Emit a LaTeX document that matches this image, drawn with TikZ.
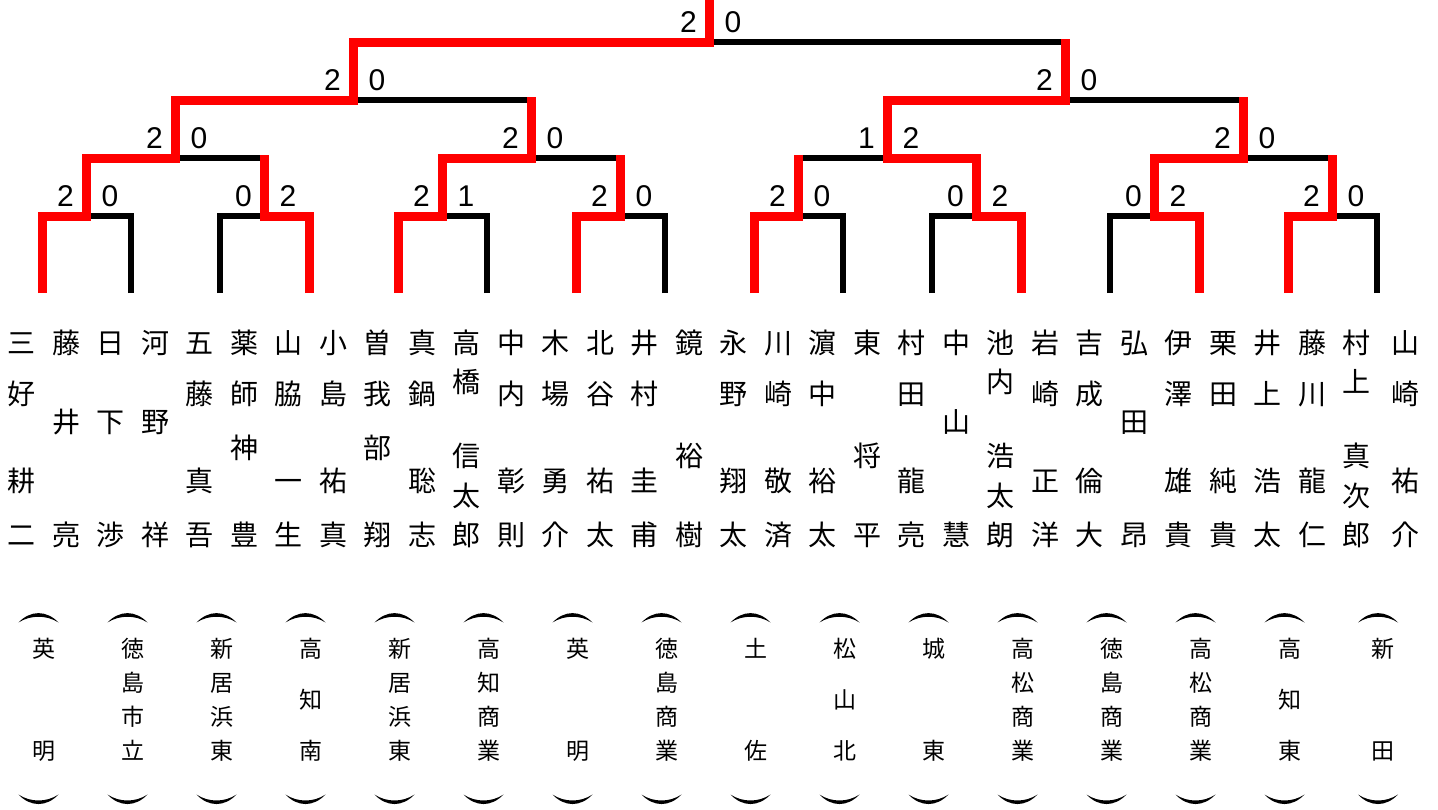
\documentclass[tikz,border=0pt]{standalone}
\usepackage{fontspec}
\newfontfamily\jpfont{Noto Sans CJK JP}
\newfontfamily\scfont{Liberation Sans}
\usetikzlibrary{calc}
% name columns (surname + given name), y positions in px
\newcommand\nmTT[6]{% 2+2
  \node[nm] (#1a) at (#2,343) {#3};
  \node[nm] (#1b) at (#2,394) {#4};
  \node[nm] (#1c) at (#2,481) {#5};
  \node[nm] (#1d) at (#2,535) {#6};}
\newcommand\nmTO[5]{% 2+1
  \node[nm] (#1a) at (#2,343) {#3};
  \node[nm] (#1b) at (#2,422) {#4};
  \node[nm] (#1c) at (#2,535) {#5};}
\newcommand\nmHO[6]{% 3+1
  \node[nm] (#1a) at (#2,343) {#3};
  \node[nm] (#1b) at (#2,394) {#4};
  \node[nm] (#1c) at (#2,448) {#5};
  \node[nm] (#1d) at (#2,535) {#6};}
\newcommand\nmTH[7]{% 2+3
  \node[nm] (#1a) at (#2,343) {#3};
  \node[nm] (#1b) at (#2,382) {#4};
  \node[nm] (#1c) at (#2,456) {#5};
  \node[nm] (#1d) at (#2,496) {#6};
  \node[nm] (#1e) at (#2,535) {#7};}
\newcommand\nmOT[5]{% 1+2
  \node[nm] (#1a) at (#2,343) {#3};
  \node[nm] (#1b) at (#2,456) {#4};
  \node[nm] (#1c) at (#2,535) {#5};}
% school columns
\newcommand\schTwo[4]{%
  \node[sch] (#1a) at (#2,649) {#3};
  \node[sch] (#1b) at (#2,751) {#4};}
\newcommand\schThree[5]{%
  \node[sch] (#1a) at (#2,649) {#3};
  \node[sch] (#1b) at (#2,700) {#4};
  \node[sch] (#1c) at (#2,751) {#5};}
\newcommand\schFour[6]{%
  \node[sch] (#1a) at (#2,649) {#3};
  \node[sch] (#1b) at (#2,683) {#4};
  \node[sch] (#1c) at (#2,717) {#5};
  \node[sch] (#1d) at (#2,751) {#6};}
\begin{document}
\begin{tikzpicture}[x=1pt,y=-1pt,
  redl/.style={draw=red, line width=9pt, line join=miter},
  blkl/.style={draw=black, line width=6pt, line join=miter},
  nm/.style={font=\jpfont\fontsize{28}{28}\selectfont, inner sep=0pt, text height=24.64pt, text depth=3.36pt},
  sch/.style={font=\jpfont\fontsize{23}{23}\selectfont, inner sep=0pt, text height=20.24pt, text depth=2.76pt},
  sc/.style={font=\scfont\fontsize{30}{30}\selectfont, inner sep=0pt, text height=21.48pt, text depth=0pt},
  parc/.style={fill=black, draw=none}]
\useasboundingbox (0,0) rectangle (1438,809);

% bracket coordinates
\foreach \k in {0,...,15} \coordinate (l\k) at ({42+89*\k},293);
\foreach \j in {1,...,8} \coordinate (m\j) at ({86.5+178*(\j-1)},216);
\coordinate (m9) at (175.5,158);
\coordinate (m10) at (531.5,158);
\coordinate (m11) at (887.5,158);
\coordinate (m12) at (1243.5,158);
\coordinate (m13) at (353.5,100);
\coordinate (m14) at (1065.5,100);
\coordinate (m15) at (709.5,42);
\coordinate (top) at (709.5,-2);

% losing lines
\draw[blkl] (l1) |- (m1);
\draw[blkl] (l2) |- (m2);
\draw[blkl] (l5) |- (m3);
\draw[blkl] (l7) |- (m4);
\draw[blkl] (l9) |- (m5);
\draw[blkl] (l10) |- (m6);
\draw[blkl] (l12) |- (m7);
\draw[blkl] (l15) |- (m8);
\draw[blkl] (m9) -- (m2 |- m9);
\draw[blkl] (m10) -- (m4 |- m10);
\draw[blkl] (m11) -- (m5 |- m11);
\draw[blkl] (m12) -- (m8 |- m12);
\draw[blkl] (m13) -- (m10 |- m13);
\draw[blkl] (m14) -- (m12 |- m14);
\draw[blkl] (m15) -- (m14 |- m15);

% winning lines
\draw[redl] (l0) |- (m1) |- (m9) |- (m13) |- (m15) -- (top);
\draw[redl] (l3) |- (m2) -- ($(m2 |- m9)+(0,-3)$);
\draw[redl] (l4) |- (m3) |- (m10) -- ($(m10 |- m13)+(0,-3)$);
\draw[redl] (l6) |- (m4) -- ($(m4 |- m10)+(0,-3)$);
\draw[redl] (l8) |- (m5) -- ($(m5 |- m11)+(0,-3)$);
\draw[redl] (l11) |- (m6) |- (m11) |- (m14) -- ($(m14 |- m15)+(0,-3)$);
\draw[redl] (l13) |- (m7) |- (m12) -- ($(m12 |- m14)+(0,-3)$);
\draw[redl] (l14) |- (m8) -- ($(m8 |- m12)+(0,-3)$);

% scores
\foreach \m/\a/\b in {1/2/0,2/0/2,3/2/1,4/2/0,5/2/0,6/0/2,7/0/2,8/2/0,
                      9/2/0,10/2/0,11/1/2,12/2/0,13/2/0,14/2/0,15/2/0}{
  \node[sc] (sa\m) at ($(m\m)+(-21,-20.5)$) {\a};
  \node[sc] (sb\m) at ($(m\m)+(23.5,-20.5)$) {\b};
}

% player names
\nmTT{n0}{21.5}{三}{好}{耕}{二}
\nmTO{n1}{66}{藤}{井}{亮}
\nmTO{n2}{110.5}{日}{下}{渉}
\nmTO{n3}{155}{河}{野}{祥}
\nmTT{n4}{199.5}{五}{藤}{真}{吾}
\nmHO{n5}{244}{薬}{師}{神}{豊}
\nmTT{n6}{288.5}{山}{脇}{一}{生}
\nmTT{n7}{333}{小}{島}{祐}{真}
\nmHO{n8}{377.5}{曽}{我}{部}{翔}
\nmTT{n9}{422}{真}{鍋}{聡}{志}
\nmTH{n10}{466.5}{高}{橋}{信}{太}{郎}
\nmTT{n11}{511}{中}{内}{彰}{則}
\nmTT{n12}{555.5}{木}{場}{勇}{介}
\nmTT{n13}{600}{北}{谷}{祐}{太}
\nmTT{n14}{644.5}{井}{村}{圭}{甫}
\nmOT{n15}{689}{鏡}{裕}{樹}
\nmTT{n16}{733.5}{永}{野}{翔}{太}
\nmTT{n17}{778}{川}{崎}{敬}{済}
\nmTT{n18}{822.5}{濵}{中}{裕}{太}
\nmOT{n19}{867}{東}{将}{平}
\nmTT{n20}{911.5}{村}{田}{龍}{亮}
\nmTO{n21}{956}{中}{山}{慧}
\nmTH{n22}{1000.5}{池}{内}{浩}{太}{朗}
\nmTT{n23}{1045}{岩}{崎}{正}{洋}
\nmTT{n24}{1089.5}{吉}{成}{倫}{大}
\nmTO{n25}{1134}{弘}{田}{昂}
\nmTT{n26}{1178.5}{伊}{澤}{雄}{貴}
\nmTT{n27}{1223}{栗}{田}{純}{貴}
\nmTT{n28}{1267.5}{井}{上}{浩}{太}
\nmTT{n29}{1312}{藤}{川}{龍}{仁}
\nmTH{n30}{1356.5}{村}{上}{真}{次}{郎}
\nmTT{n31}{1405}{山}{崎}{祐}{介}

% schools
\schTwo{c0}{43.5}{英}{明}
\schFour{c1}{132.5}{徳}{島}{市}{立}
\schFour{c2}{221.5}{新}{居}{浜}{東}
\schThree{c3}{310.5}{高}{知}{南}
\schFour{c4}{399.5}{新}{居}{浜}{東}
\schFour{c5}{488.5}{高}{知}{商}{業}
\schTwo{c6}{577.5}{英}{明}
\schFour{c7}{666.5}{徳}{島}{商}{業}
\schTwo{c8}{755.5}{土}{佐}
\schThree{c9}{844.5}{松}{山}{北}
\schTwo{c10}{933.5}{城}{東}
\schFour{c11}{1022.5}{高}{松}{商}{業}
\schFour{c12}{1111.5}{徳}{島}{商}{業}
\schFour{c13}{1200.5}{高}{松}{商}{業}
\schThree{c14}{1289.5}{高}{知}{東}
\schTwo{c15}{1383}{新}{田}

% vertical parentheses
\foreach \ax in {38.5,127.5,216.5,305.5,394.5,483.5,572.5,661.5,750.5,839.5,
                 928.5,1017.5,1106.5,1195.5,1284.5,1378}{
  \fill[parc] ({\ax-20},622.5) .. controls ({\ax-8},610) and ({\ax+8},610) .. ({\ax+20},622.5)
              .. controls ({\ax+8},614.8) and ({\ax-8},614.8) .. ({\ax-20},622.5) -- cycle;
  \fill[parc] ({\ax-20},794.5) .. controls ({\ax-8},807.2) and ({\ax+8},807.2) .. ({\ax+20},794.5)
              .. controls ({\ax+8},802.5) and ({\ax-8},802.5) .. ({\ax-20},794.5) -- cycle;
}
\end{tikzpicture}
\end{document}
